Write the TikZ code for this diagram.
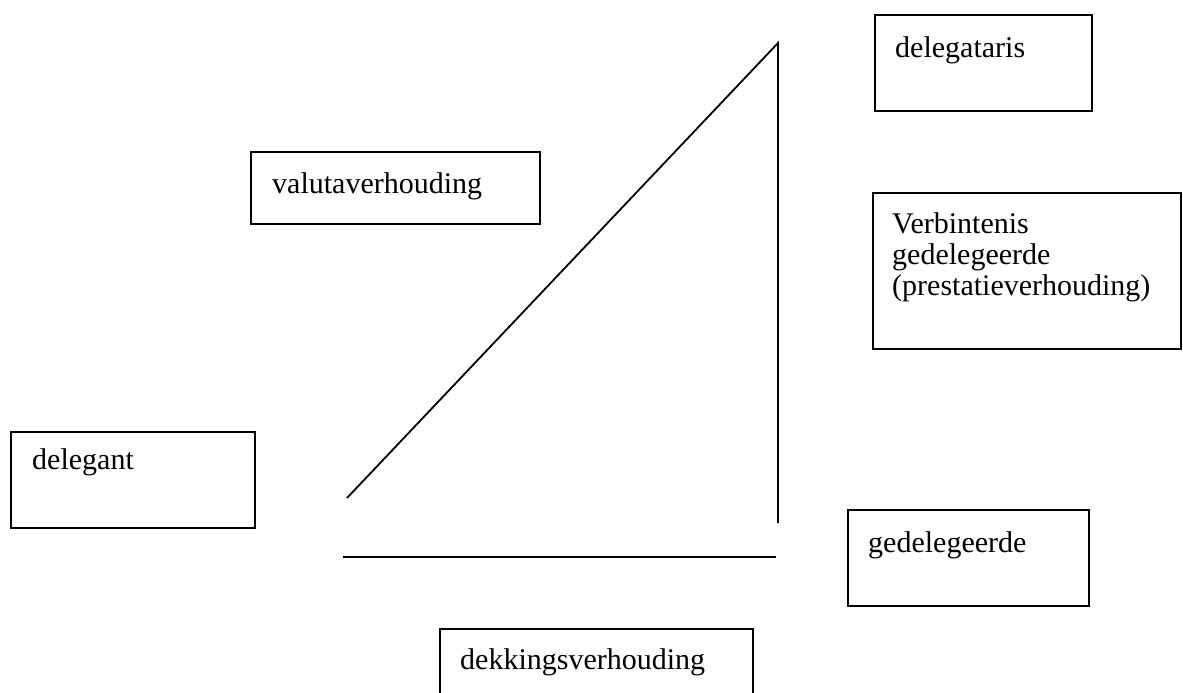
\documentclass[tikz,border=0pt]{standalone}
\usepackage{fontspec}
\setmainfont{Liberation Serif}
\usetikzlibrary{positioning, calc}

\begin{document}
\begin{tikzpicture}[x=1pt, y=-1pt,
    vak/.style={rectangle, draw, line width=1.8pt, anchor=north west, inner sep=0pt},
    tekst/.style={anchor=north west, inner sep=0pt, align=left,
        font=\fontsize{30}{31}\selectfont},
    lijn/.style={line width=1.8pt}]
    \useasboundingbox (0,0) rectangle (1183,693);
    % vakken
    \node[vak, minimum width=217, minimum height=96] (delegataris) at (874,14) {};
    \node[vak, minimum width=289, minimum height=72] (valuta) at (250,151) {};
    \node[vak, minimum width=308, minimum height=156] (verbintenis) at (872,192) {};
    \node[vak, minimum width=244, minimum height=96] (delegant) at (10,431) {};
    \node[vak, minimum width=241, minimum height=96] (gedelegeerde) at (847,509) {};
    \node[vak, minimum width=313, minimum height=100] (dekking) at (439,628) {};
    % teksten
    \node[tekst] (delegatarisTekst) at ($(delegataris.north west)+(21,22)$) {delegataris};
    \node[tekst] (valutaTekst) at ($(valuta.north west)+(22,21)$) {valutaverhouding};
    \node[tekst] (verbintenisTekst) at ($(verbintenis.north west)+(20,20)$)
        {Verbintenis\\gedelegeerde\\(prestatieverhouding)};
    \node[tekst] (delegantTekst) at ($(delegant.north west)+(22,17)$) {delegant};
    \node[tekst] (gedelegeerdeTekst) at ($(gedelegeerde.north west)+(21,22)$) {gedelegeerde};
    \node[tekst] (dekkingTekst) at ($(dekking.north west)+(21,20)$) {dekkingsverhouding};
    % driehoek
    \coordinate (top) at (778,43);
    \coordinate (linksonder) at (347,498);
    \coordinate (rechtsonder) at (778,523);
    \coordinate (basisLinks) at (343,557);
    \coordinate (basisRechts) at (776,557);
    \draw[lijn] (linksonder) -- (top) -- (rechtsonder);
    \draw[lijn] (basisLinks) -- (basisRechts);
\end{tikzpicture}
\end{document}
